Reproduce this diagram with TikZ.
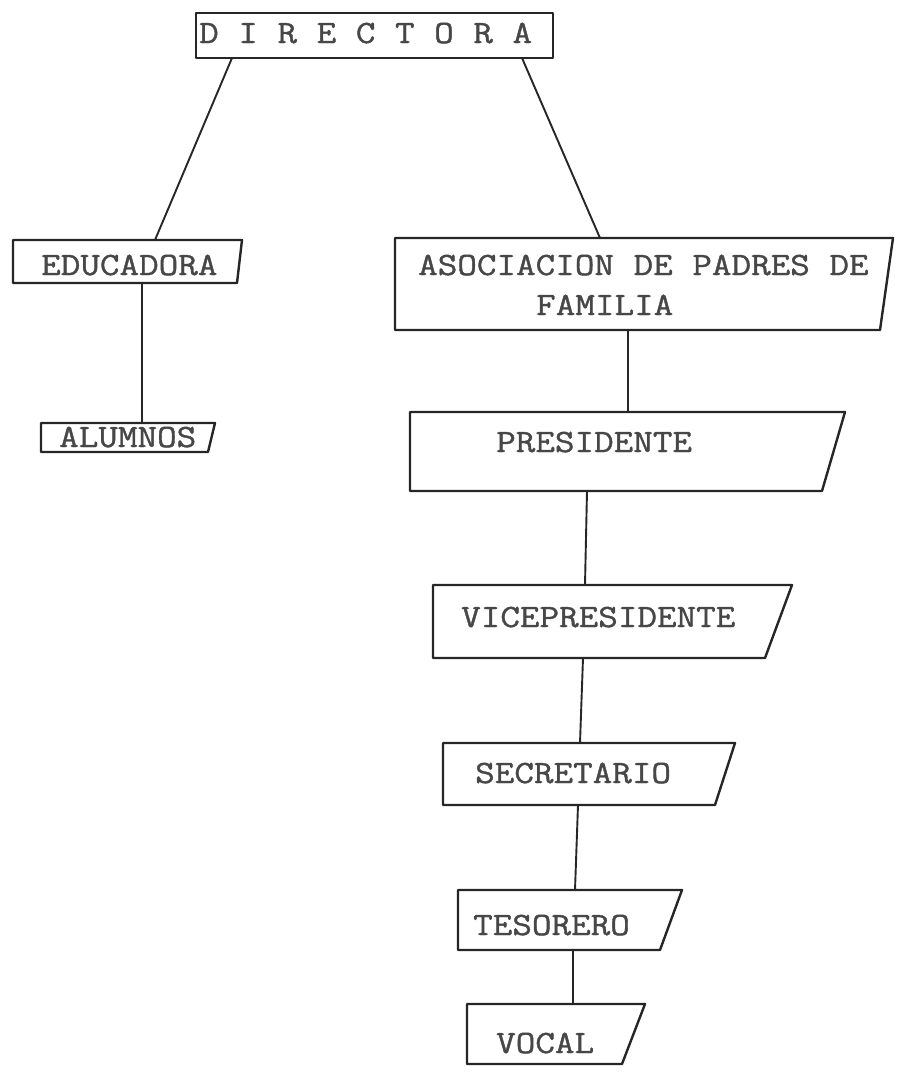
\documentclass[tikz,border=0pt]{standalone}
\usepackage{fontspec}
\newfontfamily\maquina{Latin Modern Mono}[FakeStretch=1.17,FakeBold=1.2]
\colorlet{tinta}{black!85}
\colorlet{letra}{black!72}
\tikzset{
  caja/.style={draw=tinta, line width=2.4pt, line join=round},
  linea/.style={draw=tinta, line width=1.9pt},
  etiqueta/.style={text=letra, font=\maquina\fontsize{32.5}{40}\selectfont, inner sep=0pt, anchor=base west}
}
% name, left x, top y, bottom y, top right x, bottom right x
\newcommand{\trapecio}[6]{%
  \draw[caja] (#2,#3) coordinate (#1-nw) -- (#5,#3) coordinate (#1-ne)
    -- (#6,#4) coordinate (#1-se) -- (#2,#4) coordinate (#1-sw) -- cycle;}
\begin{document}
\begin{tikzpicture}[x=1pt,y=-1pt]
  \useasboundingbox (0,0) rectangle (911,1076);

  % Boxes
  \trapecio{dir}{196}{13}{58}{553}{553}
  \trapecio{edu}{13}{240}{283}{242}{237}
  \trapecio{alu}{41}{423}{452}{215}{208}
  \trapecio{aso}{395}{238}{330}{893}{880}
  \trapecio{pre}{410}{412}{491}{845}{822}
  \trapecio{vic}{433}{585}{658}{792}{765}
  \trapecio{sec}{443}{743}{805}{735}{715}
  \trapecio{tes}{458}{890}{950}{682}{660}
  \trapecio{voc}{467}{1004}{1064}{645}{622}

  % Labels
  \node[etiqueta] (directora) at (199,43) {D I R E C T O R A};
  \node[etiqueta] (educadora) at (41,275) {EDUCADORA};
  \node[etiqueta] (alumnos) at (59,447) {ALUMNOS};
  \node[etiqueta] (asociacion) at (418,275) {ASOCIACION DE PADRES DE};
  \node[etiqueta] (familia) at (536,315) {FAMILIA};
  \node[etiqueta] (presidente) at (496,452) {PRESIDENTE};
  \node[etiqueta] (vicepresidente) at (461,627) {VICEPRESIDENTE};
  \node[etiqueta] (secretario) at (475,783) {SECRETARIO};
  \node[etiqueta] (tesorero) at (473,935) {TESORERO};
  \node[etiqueta] (vocal) at (496,1053) {VOCAL};

  % Connector ends
  \coordinate (dir-a) at (232,58);  \coordinate (edu-a) at (155,240);
  \coordinate (dir-b) at (522,58);  \coordinate (aso-a) at (600,238);
  \coordinate (edu-b) at (142,283); \coordinate (alu-a) at (142,423);
  \coordinate (aso-b) at (628,330); \coordinate (pre-a) at (628,412);
  \coordinate (pre-b) at (587,491); \coordinate (vic-a) at (585,585);
  \coordinate (vic-b) at (583,658); \coordinate (sec-a) at (580,743);
  \coordinate (sec-b) at (578,805); \coordinate (tes-a) at (575,890);
  \coordinate (tes-b) at (573,950); \coordinate (voc-a) at (573,1004);

  % Connectors
  \draw[linea] (dir-a) -- (edu-a);
  \draw[linea] (dir-b) -- (aso-a);
  \draw[linea] (edu-b) -- (alu-a);
  \draw[linea] (aso-b) -- (pre-a);
  \draw[linea] (pre-b) -- (vic-a);
  \draw[linea] (vic-b) -- (sec-a);
  \draw[linea] (sec-b) -- (tes-a);
  \draw[linea] (tes-b) -- (voc-a);
\end{tikzpicture}
\end{document}
